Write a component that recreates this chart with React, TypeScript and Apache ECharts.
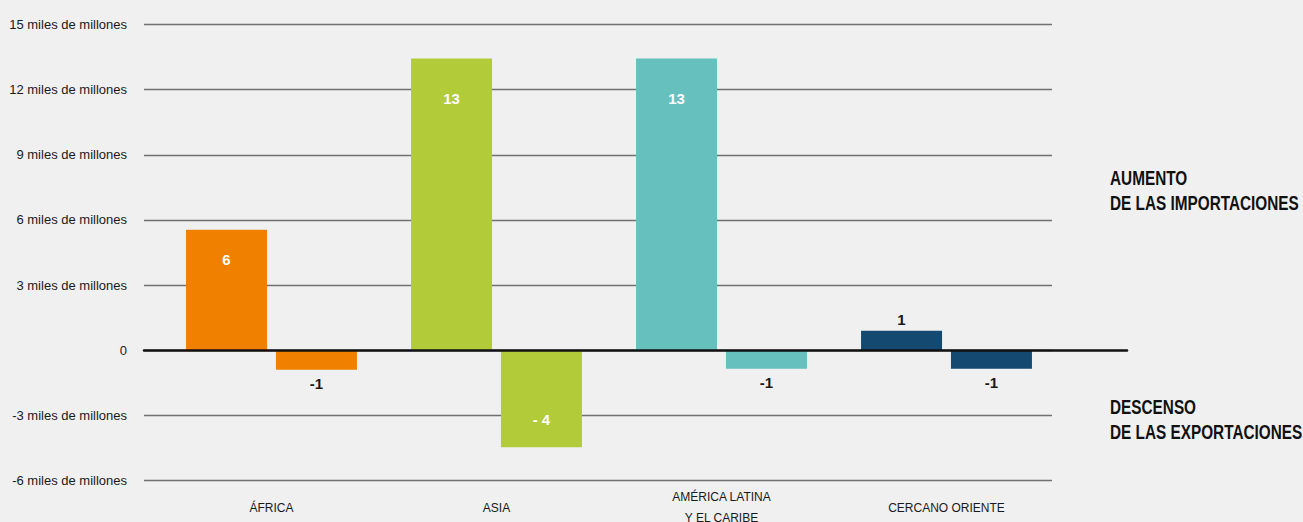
import React, { useEffect, useRef } from "react";
import * as echarts from "echarts";

const categories = ["ÁFRICA", "ASIA", "AMÉRICA LATINA\nY EL CARIBE", "CERCANO ORIENTE"];
const importIncrease = [5.55, 13.43, 13.43, 0.9];
const exportDecline = [-0.9, -4.47, -0.85, -0.85];
const importLabels = ["6", "13", "13", "1"];
const exportLabels = ["-1", "- 4", "-1", "-1"];
const regionColors = ["#F08000", "#B2CB38", "#66C1BE", "#144A72"];
const yMin = -6;
const yMax = 15;
const yStep = 3;
const yUnit = "miles de millones";
const sideNotes = ["AUMENTO\nDE LAS IMPORTACIONES", "DESCENSO\nDE LAS EXPORTACIONES"];

const FONT = "'Liberation Sans', Arial, sans-serif";

export default function App() {
  const ref = useRef<HTMLDivElement>(null);
  useEffect(() => {
    if (!ref.current) return;
    const chart = echarts.init(ref.current, undefined, { renderer: "svg" });
    const TOP = 24.5;
    const H = 456;
    const yCommon = { type: "value", min: yMin, max: yMax, interval: yStep };

    const importData = importIncrease.map((v, i) => {
      const big = v > 3;
      return {
        value: v,
        itemStyle: { color: regionColors[i] },
        label: {
          show: true,
          formatter: importLabels[i],
          position: big ? "insideTop" : "top",
          distance: big ? (v > 10 ? 32 : 22) : 4,
          color: big ? "#ffffff" : "#1a1a1a",
        },
      };
    });
    const exportData = exportDecline.map((v, i) => {
      const big = v < -3;
      return {
        value: v,
        itemStyle: { color: regionColors[i] },
        label: {
          show: true,
          formatter: exportLabels[i],
          position: big ? "insideBottom" : "bottom",
          distance: big ? 20 : 6,
          color: big ? "#ffffff" : "#1a1a1a",
        },
      };
    });

    const noteStyle = {
      fontSize: 20,
      fontWeight: "bold",
      lineHeight: 25,
      fill: "#111111",
      fontFamily: FONT,
    };

    const option: any = {
      animation: false,
      backgroundColor: "#F0F0F0",
      textStyle: { fontFamily: FONT },
      grid: [
        { left: 144, right: 1303 - 1052, top: TOP, height: H, outerBoundsMode: "none" },
        { left: 159, width: 900, top: TOP, height: H, outerBoundsMode: "none" },
        { left: 144, width: 983, top: TOP, height: H, outerBoundsMode: "none" },
      ],
      xAxis: [
        { type: "category", gridIndex: 0, data: categories, show: false },
        {
          type: "category",
          gridIndex: 1,
          data: categories,
          axisLine: { show: false },
          axisTick: { show: false },
          axisLabel: {
            show: true,
            interval: 0,
            margin: 27,
            verticalAlign: "middle",
            lineHeight: 21,
            fontSize: 12,
            color: "#1a1a1a",
            fontFamily: FONT,
          },
          splitLine: { show: false },
        },
        {
          type: "category",
          gridIndex: 2,
          data: categories,
          z: 10,
          axisLine: { show: true, onZero: true, lineStyle: { color: "#111111", width: 2.5 } },
          axisTick: { show: false },
          axisLabel: { show: false },
          splitLine: { show: false },
        },
      ],
      yAxis: [
        {
          ...yCommon,
          gridIndex: 0,
          axisLine: { show: false },
          axisTick: { show: false },
          axisLabel: {
            margin: 17,
            fontSize: 13,
            color: "#1a1a1a",
            fontFamily: FONT,
            formatter: (v: number) => (v === 0 ? "0" : `${v} ${yUnit}`),
          },
          splitLine: { show: true, lineStyle: { color: "#707070", width: 1.3 } },
        },
        { ...yCommon, gridIndex: 1, show: false, splitLine: { show: false } },
        { ...yCommon, gridIndex: 2, show: false, splitLine: { show: false } },
      ],
      series: [
        {
          name: "Aumento de las importaciones",
          type: "bar",
          xAxisIndex: 1,
          yAxisIndex: 1,
          barWidth: 81,
          barGap: "11%",
          data: importData,
          label: { fontSize: 15, fontWeight: "bold", fontFamily: FONT },
        },
        {
          name: "Descenso de las exportaciones",
          type: "bar",
          xAxisIndex: 1,
          yAxisIndex: 1,
          barWidth: 81,
          barGap: "11%",
          data: exportData,
          label: { fontSize: 15, fontWeight: "bold", fontFamily: FONT },
        },
      ],
      graphic: [
        {
          type: "text",
          x: 1110,
          y: 166,
          scaleX: 0.767,
          style: { ...noteStyle, text: sideNotes[0] },
        },
        {
          type: "text",
          x: 1110,
          y: 395,
          scaleX: 0.767,
          style: { ...noteStyle, text: sideNotes[1] },
        },
      ],
    };
    chart.setOption(option);
    return () => chart.dispose();
  }, []);
  return <div ref={ref} style={{ width: 1303, height: 522, position: "absolute", left: 0, top: 0 }} />;
}
